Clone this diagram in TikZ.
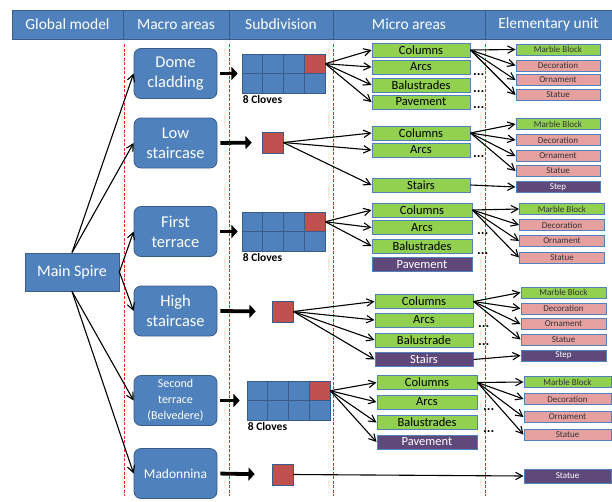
\documentclass[tikz,border=0pt]{standalone}
\usepackage{fontspec}
\setmainfont{Carlito}
\usetikzlibrary{arrows.meta,positioning,calc}
\definecolor{hdrblue}{HTML}{4F81BD}
\definecolor{edgeblue}{HTML}{385D8A}
\definecolor{leafgreen}{HTML}{92D050}
\definecolor{rosepink}{HTML}{E6A0A0}
\definecolor{plum}{HTML}{5F497A}
\definecolor{brick}{HTML}{C0504D}
\definecolor{zonered}{HTML}{FF2020}
\tikzset{
  head/.style   ={draw=edgeblue,line width=0.8pt,fill=hdrblue,text=white,minimum height=29pt,
                  inner sep=0pt,font=\fontsize{15.5}{17}\selectfont},
  spire/.style  ={draw=edgeblue,line width=0.8pt,fill=hdrblue,text=white,minimum width=94pt,
                  minimum height=38pt,inner sep=0pt,font=\fontsize{16}{18}\selectfont},
  macro/.style  ={rounded corners=7pt,draw=edgeblue,line width=0.8pt,fill=hdrblue,text=white,
                  minimum width=83pt,minimum height=50pt,align=center,inner sep=1pt,
                  font=\fontsize{16.5}{20}\selectfont},
  micro/.style  ={draw=hdrblue,line width=1pt,fill=leafgreen,minimum width=98pt,
                  minimum height=14pt,inner sep=0pt,font=\fontsize{12.5}{13}\selectfont},
  micropl/.style={micro,fill=plum,text=white},
  unit/.style   ={draw=hdrblue,line width=1pt,fill=rosepink,minimum width=85pt,
                  minimum height=11pt,inner sep=0pt,text=black!80,font=\fontsize{9}{9}\selectfont},
  unitgr/.style ={unit,fill=leafgreen},
  unitpl/.style ={unit,fill=plum,text=white},
  gridbox/.style={draw=edgeblue,line width=0.6pt,fill=hdrblue,minimum width=83pt,
                  minimum height=39pt,inner sep=0pt},
  clove/.style  ={draw=edgeblue,line width=0.6pt,fill=brick,minimum width=20.75pt,
                  minimum height=19.5pt,inner sep=0pt},
  cloves/.style ={font=\bfseries\fontsize{11.5}{12}\selectfont,inner sep=1pt},
  dots/.style   ={font=\bfseries\fontsize{14}{14}\selectfont,inner sep=0pt},
  zone/.style   ={draw=zonered,dash pattern=on 3pt off 1.5pt,line width=1pt},
  link/.style   ={-{Straight Barb[length=2.4mm,width=2.6mm]},line width=1.1pt},
  feed/.style   ={-{Triangle[length=2.2mm,width=4.6mm]},line width=3.8pt}
}
% grid of eight cloves, red one top right: name, x, y
\newcommand{\clovegrid}[3]{%
  \node[gridbox] (#1) at (#2,#3) {};
  \foreach \i in {1,2,3}
    \draw[edgeblue,line width=0.6pt] ($(#1.north west)!\i/4!(#1.north east)$)
      -- ($(#1.south west)!\i/4!(#1.south east)$);
  \draw[edgeblue,line width=0.6pt] (#1.west) -- (#1.east);
  \node[clove,anchor=north east] (#1-red) at (#1.north east) {};
  \node[cloves,anchor=north west] (#1-lbl) at ($(#1.south west)+(0,1)$) {8 Cloves};
}

\begin{document}
\begin{tikzpicture}[x=1pt,y=-1pt]
  \useasboundingbox (0,0) rectangle (612,501);
  % header
  \node[head,minimum width=111pt] (h1) at (67.5,24.5) {Global model};
  \node[head,minimum width=106pt] (h2) at (176,24.5) {Macro areas};
  \node[head,minimum width=104pt] (h3) at (281,24.5) {Subdivision};
  \node[head,minimum width=152pt] (h4) at (409,24.5) {Micro areas};
  \node[head,minimum width=127pt] (h5) at (548.5,24.5) {Elementary unit};
  % column borders
  \draw[zone] (124.5,44) -- (124.5,496);
  \draw[zone] (229.5,44) -- (229.5,496);
  \draw[zone] (333.5,44) -- (333.5,496);
  \draw[zone] (485.5,44) -- (485.5,496);

  % global model and macro areas
  \node[spire] (spire) at (72,272) {Main Spire};
  \node[macro] (dome) at (175.5,73.5) {Dome\\cladding};
  \node[macro] (low) at (175.5,143) {Low\\staircase};
  \node[macro] (first) at (175.5,231.5) {First\\terrace};
  \node[macro] (high) at (175.5,311) {High\\staircase};
  \node[macro,font=\fontsize{12}{16}\selectfont] (second) at (175.5,400.5)
    {Second\\terrace\\(Belvedere)};
  \node[macro,font=\fontsize{13.5}{16}\selectfont] (madonnina) at (175.5,473.5) {Madonnina};
  \draw[link] (spire.north) -- (dome.west);
  \draw[link] (spire.north) -- (low.west);
  \draw[link] (spire.east) -- (first.west);
  \draw[link] (spire.east) -- (high.west);
  \draw[link] (spire.south) -- (second.west);
  \draw[link] (spire.south) -- (madonnina.west);

  % subdivision
  \clovegrid{g1}{283.5}{73.5}
  \clovegrid{g3}{283.5}{231.5}
  \clovegrid{g5}{288.5}{400.5}
  \node[clove,minimum width=21pt,minimum height=21pt] (sq2) at (272.5,142.5) {};
  \node[clove,minimum width=21pt,minimum height=21pt] (sq4) at (282.5,311.5) {};
  \node[clove,minimum width=21pt,minimum height=21pt] (sq6) at (282.5,474.5) {};
  \draw[feed,shorten <=3pt,shorten >=4pt] (dome.east) -- (g1.west);
  \draw[feed,shorten <=3pt,shorten >=10pt] (low.east) -- (sq2.west);
  \draw[feed,shorten <=3pt,shorten >=4pt] (first.east) -- (g3.west);
  \draw[feed,shorten <=3pt,shorten >=16pt] (high.east) -- (sq4.west);
  \draw[feed,shorten <=3pt,shorten >=7pt] (second.east) -- (g5.west);
  \draw[feed,shorten <=3pt,shorten >=17pt] (madonnina.east) -- (sq6.west);

  % micro areas
  \node[micro] (m1c) at (421,50) {Columns};
  \node[micro] (m1a) at (421,67) {Arcs};
  \node[micro] (m1b) at (421,85) {Balustrades};
  \node[micro] (m1p) at (421,102) {Pavement};
  \node[micro] (m2c) at (421,133) {Columns};
  \node[micro] (m2a) at (421,150) {Arcs};
  \node[micro] (m2s) at (421,185) {Stairs};
  \node[micro,minimum width=100pt] (m3c) at (422,210) {Columns};
  \node[micro,minimum width=100pt] (m3a) at (422,227.5) {Arcs};
  \node[micro,minimum width=100pt] (m3b) at (422,246) {Balustrades};
  \node[micropl,minimum width=100pt] (m3p) at (422,264.5) {Pavement};
  \node[micro] (m4c) at (424,301.5) {Columns};
  \node[micro] (m4a) at (424,320) {Arcs};
  \node[micro] (m4b) at (424,340) {Balustrade};
  \node[micropl] (m4s) at (424,359.5) {Stairs};
  \node[micro,minimum width=100pt] (m5c) at (427,382.5) {Columns};
  \node[micro,minimum width=100pt] (m5a) at (427,402) {Arcs};
  \node[micro,minimum width=100pt] (m5b) at (427,422.5) {Balustrades};
  \node[micropl,minimum width=100pt] (m5p) at (427,442) {Pavement};
  \foreach \m in {m1c,m1a,m1b,m1p} \draw[link] (g1-red.east) -- (\m.west);
  \foreach \m in {m2c,m2a,m2s} \draw[link] (sq2.east) -- (\m.west);
  \foreach \m in {m3c,m3a,m3b} \draw[link] (g3-red.east) -- (\m.west);
  \foreach \m in {m4c,m4a,m4b,m4s} \draw[link] (sq4.east) -- (\m.west);
  \foreach \m in {m5c,m5a,m5b,m5p} \draw[link] (g5-red.east) -- (\m.west);
  % more of the same
  \node[dots,anchor=base west] (d1a) at (473,75) {...};
  \node[dots,anchor=base west] (d1b) at (473,92) {...};
  \node[dots,anchor=base west] (d1p) at (473,108) {...};
  \node[dots,anchor=base west] (d2a) at (473,157) {...};
  \node[dots,anchor=base west] (d3a) at (477,234) {...};
  \node[dots,anchor=base west] (d3b) at (477,254) {...};
  \node[dots,anchor=base west] (d4a) at (478,327) {...};
  \node[dots,anchor=base west] (d4b) at (478,345) {...};
  \node[dots,anchor=base west] (d5a) at (483,410) {...};
  \node[dots,anchor=base west] (d5b) at (483,432) {...};

  % elementary units
  \node[unitgr,minimum width=84pt] (u1m) at (558,49.5) {Marble Block};
  \node[unit,minimum width=84pt] (u1d) at (558,65.5) {Decoration};
  \node[unit,minimum width=84pt] (u1o) at (558,80) {Ornament};
  \node[unit,minimum width=84pt] (u1s) at (558,95) {Statue};
  \node[unitgr,minimum width=84pt] (u2m) at (558,124) {Marble Block};
  \node[unit,minimum width=84pt] (u2d) at (558,140) {Decoration};
  \node[unit,minimum width=84pt] (u2o) at (558,156) {Ornament};
  \node[unit,minimum width=84pt] (u2s) at (558,171) {Statue};
  \node[unitpl,minimum width=84pt] (u2t) at (558,187) {Step};
  \node[unitgr] (u3m) at (562,209) {Marble Block};
  \node[unit] (u3d) at (562,225) {Decoration};
  \node[unit] (u3o) at (562,241) {Ornament};
  \node[unit] (u3s) at (562,257.5) {Statue};
  \node[unitgr] (u4m) at (563.5,292.5) {Marble Block};
  \node[unit] (u4d) at (563.5,308.5) {Decoration};
  \node[unit] (u4o) at (563.5,324) {Ornament};
  \node[unit] (u4s) at (563.5,339.5) {Statue};
  \node[unitpl] (u4t) at (563.5,355.5) {Step};
  \node[unitgr,minimum width=87pt] (u5m) at (567.5,382) {Marble Block};
  \node[unit,minimum width=87pt] (u5d) at (567.5,399) {Decoration};
  \node[unit,minimum width=87pt] (u5o) at (567.5,417) {Ornament};
  \node[unit,minimum width=87pt] (u5s) at (567.5,434.5) {Statue};
  \node[unitpl,minimum width=87pt,minimum height=14pt] (u6s) at (567.5,476) {Statue};
  \foreach \u in {u1m,u1d,u1o,u1s} \draw[link] (m1c.east) -- (\u.west);
  \foreach \u in {u2m,u2d,u2o,u2s} \draw[link] (m2c.east) -- (\u.west);
  \draw[link] (m2s.east) -- (u2t.west);
  \foreach \u in {u3m,u3d,u3o,u3s} \draw[link] (m3c.east) -- (\u.west);
  \foreach \u in {u4m,u4d,u4o,u4s} \draw[link] (m4c.east) -- (\u.west);
  \draw[link] (m4s.east) -- (u4t.west);
  \foreach \u in {u5m,u5d,u5o,u5s} \draw[link] (m5c.east) -- (\u.west);
  \draw[link] (sq6.east) -- (u6s.west);
\end{tikzpicture}
\end{document}
